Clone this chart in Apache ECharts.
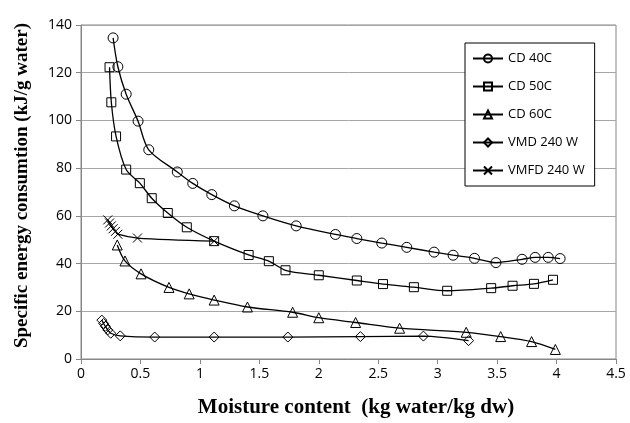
<!DOCTYPE html>
<html>
<head>
<meta charset="utf-8">
<script src="https://cdn.jsdelivr.net/npm/echarts@6/dist/echarts.min.js"></script>
<style>html,body{margin:0;padding:0;background:#fff}#chart{width:630px;height:423px}</style>
</head>
<body>
<div id="chart"></div>
<script>
// values (x: kg water/kg dw, y: kJ/g water)
const cd40X = [0.27,0.31,0.38,0.48,0.57,0.81,0.94,1.10,1.29,1.53,1.81,2.14,2.32,2.53,2.74,2.97,3.13,3.31,3.49,3.71,3.82,3.93,4.03];
const cd40Y = [134.6,122.5,111,99.7,87.7,78.4,73.6,68.9,64.2,60,55.8,52.2,50.5,48.6,46.8,44.8,43.5,42.2,40.4,41.8,42.6,42.6,42.1];
const cd50X = [0.24,0.255,0.295,0.38,0.495,0.595,0.73,0.89,1.12,1.41,1.58,1.72,2.0,2.32,2.54,2.8,3.08,3.45,3.63,3.81,3.97];
const cd50Y = [122.3,107.6,93.3,79.4,73.7,67.4,61.2,55.2,49.4,43.6,41,37.2,35.1,32.9,31.4,30.1,28.6,29.7,30.7,31.5,33.2];
const cd60X = [0.305,0.37,0.505,0.74,0.91,1.12,1.40,1.78,2.0,2.31,2.68,3.24,3.53,3.79,3.99];
const cd60Y = [47.8,41.1,35.7,30,27.3,24.7,21.8,19.6,17.3,15.3,12.9,11.2,9.4,7.3,4.0];
const vmdX = [0.175,0.19,0.205,0.225,0.25,0.33,0.62,1.12,1.74,2.35,2.88,3.26];
const vmdY = [16.3,14.9,13.7,12.2,10.8,9.7,9.2,9.2,9.2,9.4,9.6,7.7];
const vmfdX = [0.225,0.24,0.255,0.27,0.29,0.31,0.475,1.12];
const vmfdY = [58.3,57,55.8,54.6,53.5,52.3,50.7,49.4];
const names = ['CD 40C','CD 50C','CD 60C','VMD 240 W','VMFD 240 W'];

const crossPath = 'path://M0,0L10,10M10,0L0,10';
const zip = (xs, ys) => xs.map((x, i) => [x, ys[i]]);

function line(name, xs, ys, symbol, size) {
  return {
    name, type: 'line', data: zip(xs, ys),
    symbol, symbolSize: size, showAllSymbol: true, smooth: 0.3,
    lineStyle: {color: '#000', width: 1.3},
    itemStyle: {color: 'rgba(0,0,0,0)', borderColor: '#000', borderWidth: 1},
    emphasis: {disabled: true}
  };
}

const chart = echarts.init(document.getElementById('chart'));
chart.setOption({
  animation: false,
  backgroundColor: '#fff',
  grid: {left: 81, right: 14, top: 25, bottom: 62, show: true, borderColor: '#868686', borderWidth: 1, backgroundColor: 'rgba(0,0,0,0)'},
  legend: {
    orient: 'vertical', left: 465, top: 43,
    data: names,
    itemWidth: 30, itemHeight: 10, itemGap: 15,
    padding: [9, 10, 9, 7],
    borderColor: '#000', borderWidth: 1, backgroundColor: '#fff',
    textStyle: {fontFamily: 'Open Sans', fontSize: 13, color: '#000'}
  },
  xAxis: {
    type: 'value', min: 0, max: 4.5, interval: 0.5,
    name: 'Moisture content  (kg water/kg dw)', nameLocation: 'middle', nameGap: 38,
    nameTextStyle: {fontFamily: 'Liberation Serif', fontWeight: 'bold', fontSize: 21, color: '#000', padding: [0, 0, 0, 15]},
    axisLine: {lineStyle: {color: '#868686'}},
    axisTick: {show: true, length: 5, lineStyle: {color: '#868686'}},
    axisLabel: {fontFamily: 'Open Sans', fontSize: 14, color: '#000', margin: 8},
    splitLine: {show: false}
  },
  yAxis: {
    type: 'value', min: 0, max: 140, interval: 20,
    name: 'Specific energy consumtion (kJ/g water)', nameLocation: 'middle', nameGap: 49,
    nameTextStyle: {fontFamily: 'Liberation Serif', fontWeight: 'bold', fontSize: 19, color: '#000', padding: [0, 0, 0, 13]},
    axisLine: {show: true, lineStyle: {color: '#868686'}},
    axisTick: {show: true, length: 5, lineStyle: {color: '#868686'}},
    axisLabel: {fontFamily: 'Open Sans', fontSize: 14, color: '#000', margin: 9},
    splitLine: {lineStyle: {color: '#a6a6a6', width: 1}}
  },
  series: [
    line(names[0], cd40X, cd40Y, 'circle', 10),
    line(names[1], cd50X, cd50Y, 'rect', 9),
    line(names[2], cd60X, cd60Y, 'triangle', 10),
    line(names[3], vmdX, vmdY, 'diamond', 10),
    line(names[4], vmfdX, vmfdY, crossPath, 9)
  ]
});
</script>
</body>
</html>
